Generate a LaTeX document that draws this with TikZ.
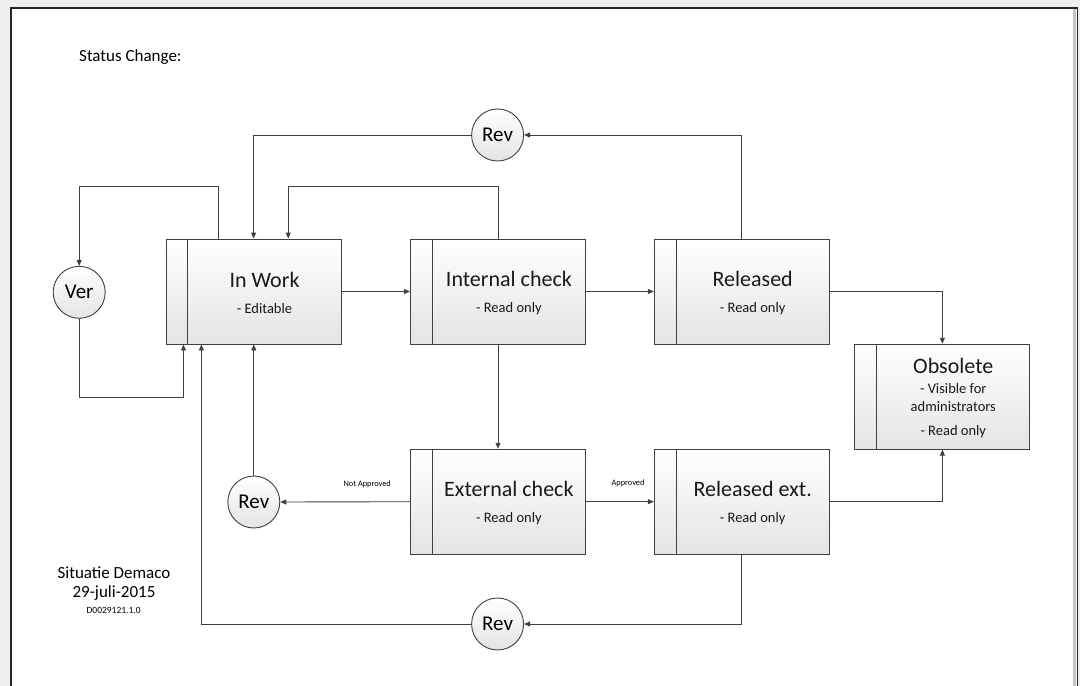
\documentclass[tikz,border=0pt]{standalone}
\usepackage{fontspec}
\setmainfont{Carlito}
\usetikzlibrary{arrows.meta}

\definecolor{linegray}{HTML}{404040}
\definecolor{boxgray}{HTML}{E4E4E4}
\definecolor{pagegray}{HTML}{EFEFEF}

\newcommand{\stitle}[1]{{\fontsize{22}{26}\selectfont #1}}

\tikzset{
	statebox/.style={rectangle, draw=linegray, line width=0.9pt, minimum width=175pt, minimum height=105pt,
		top color=white, bottom color=boxgray,
		path picture={\draw[linegray, line width=0.9pt] ([xshift=21.7pt]path picture bounding box.north west) -- ([xshift=21.7pt]path picture bounding box.south west);}},
	statetext/.style={align=center, inner sep=0pt, text=black!90, font=\fontsize{14.5}{18}\selectfont},
	revcircle/.style={circle, draw=linegray, line width=0.9pt, minimum size=52pt, inner sep=0pt,
		top color=white, bottom color=boxgray, font=\fontsize{21}{24}\selectfont},
	flow/.style={draw=linegray, line width=0.9pt, -{Triangle[length=6pt,width=5pt]}},
	flowlabel/.style={inner sep=0pt, font=\fontsize{8.3}{10}\selectfont},
	plaintext/.style={inner sep=0pt, font=\fontsize{17}{20}\selectfont},
}

\begin{document}
\begin{tikzpicture}[x=1pt, y=-1pt]
				\useasboundingbox (0,0) rectangle (1080,686);
				\begin{scope}
					\clip (0,0) rectangle (1080,686);
					\fill[pagegray] (0,0) rectangle (1080,686);
					\filldraw[fill=white, draw=black!85, line width=1.3pt] (11,8) rectangle (1077.5,700); % sheet
					\draw[gray!45, line width=2.5pt] (1074.5,9) -- (1074.5,700);
				\end{scope}

				\node[plaintext, anchor=west] (title) at (79,57.5) {Status Change:};

				% states
				\node[statebox] (work) at (253.6,291.5) {};
				\node[statebox] (intc) at (498,291.5) {};
				\node[statebox] (rel) at (741.8,291.5) {};
				\node[statebox] (obs) at (942.4,396.7) {};
				\node[statebox] (ext) at (498,501.7) {};
				\node[statebox] (relx) at (741.8,501.7) {};

				\node[statetext] (work-t) at (264.5,293) {\stitle{In Work}\\[7.5pt]- Editable};
				\node[statetext] (intc-t) at (508.9,293) {\stitle{Internal check}\\[7.5pt]- Read only};
				\node[statetext] (rel-t) at (752.7,293) {\stitle{Released}\\[7.5pt]- Read only};
				\node[statetext] (obs-t) at (953.3,398) {\stitle{Obsolete}\\[1.5pt]- Visible for\\administrators\\[6pt]- Read only};
				\node[statetext] (ext-t) at (508.9,503.2) {\stitle{External check}\\[7.5pt]- Read only};
				\node[statetext] (relx-t) at (752.7,503.2) {\stitle{Released ext.}\\[7.5pt]- Read only};

				% revision / version circles
				\node[revcircle] (revtop) at (497.6,135) {Rev};
				\node[revcircle] (ver) at (79.2,292.3) {Ver};
				\node[revcircle] (revmid) at (253.8,502) {Rev};
				\node[revcircle] (revbot) at (497.6,624) {Rev};

				\draw[flow] (work.east) -- (intc.west); % work -> internal
				\draw[flow] (intc.east) -- (rel.west); % internal -> released
				\draw[flow] (rel.east) -| (obs.north); % released -> obsolete
				\draw[flow] (relx.east) -| (obs.south); % released ext -> obsolete
				\draw[flow] (intc.south) -- (ext.north); % internal -> external
				\draw[flow] (ext.west) -- node[flowlabel, pos=0.33, yshift=18pt] (napp) {Not Approved} (revmid.east);
				\draw[flow] (ext.east) -- node[flowlabel, pos=0.62, yshift=18pt] (app) {Approved} (relx.west);

				\draw[flow] (rel.north) |- (revtop.east); % released -> rev
				\draw[flow] (revtop.west) -| (work.north); % rev -> work
				\draw[flow] (intc.north) -- ++(0,-52) -| ([xshift=34.6pt]work.north); % internal -> work
				\draw[flow] ([xshift=-35.3pt]work.north) -- ++(0,-52) -| (ver.north); % work -> ver
				\draw[flow] (ver.south) -- ++(0,78.7) -| ([xshift=-70.1pt]work.south); % ver -> work
				\draw[flow] (revmid.north) -- (revmid.north |- work.south); % rev -> work
				\draw[flow] (relx.south) |- (revbot.east); % released ext -> rev
				\draw[flow] (revbot.west) -| ([xshift=-52.2pt]work.south); % rev -> work

				\node[plaintext] (sit1) at (114,572.7) {Situatie Demaco};
				\node[plaintext] (sit2) at (114,593) {29-juli-2015};
				\node[inner sep=0pt, font=\fontsize{9.5}{11}\selectfont] (sit3) at (113.6,610) {D0029121.1.0};
			\end{tikzpicture}
\end{document}
